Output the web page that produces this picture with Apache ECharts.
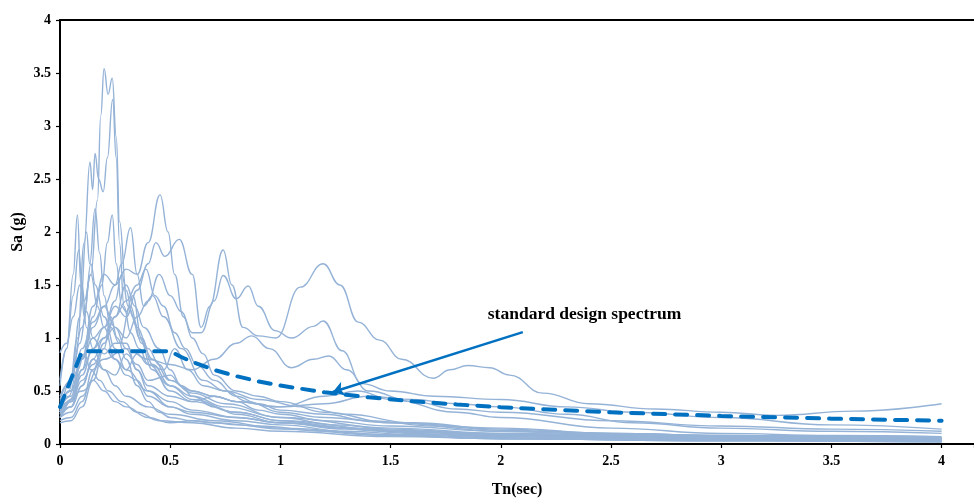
<!DOCTYPE html>
<html>
<head>
<meta charset="utf-8">
<title>Response spectra</title>
<script src="https://cdn.jsdelivr.net/npm/echarts@6/dist/echarts.min.js"></script>
<style>
    html, body { margin: 0; padding: 0; background: #fff; }
    #spectra { width: 974px; height: 498px; }
</style>
</head>
<body>
<div id="spectra"></div>
<script>
// 各记录的反应谱 [Tn, Sa]
var rec01 = [[0,0.42],[0.05,0.6],[0.1,1.1],[0.14,1.6],[0.17,2.3],[0.185,3.1],[0.2,3.54],[0.218,3.3],[0.237,3.45],[0.255,2.9],[0.27,2.1],[0.3,1.45],[0.33,1.2],[0.37,0.95],[0.42,0.8],[0.5,0.6],[0.6,0.48],[0.75,0.38],[1,0.25],[1.25,0.18],[1.5,0.14],[2,0.09],[2.5,0.07],[3,0.05],[3.5,0.045],[4,0.04]];
var rec02 = [[0,0.32],[0.04,0.5],[0.08,1.0],[0.11,1.9],[0.136,2.66],[0.148,2.4],[0.159,2.74],[0.175,2.5],[0.196,2.38],[0.215,2.7],[0.239,3.25],[0.255,2.7],[0.27,1.9],[0.29,1.3],[0.32,1.05],[0.36,0.9],[0.4,0.75],[0.5,0.55],[0.6,0.42],[0.8,0.3],[1,0.22],[1.3,0.15],[1.6,0.11],[2,0.08],[2.5,0.06],[3,0.045],[4,0.03]];
var rec03 = [[0,0.55],[0.03,0.9],[0.06,1.6],[0.079,2.16],[0.095,1.5],[0.11,1.2],[0.14,1.7],[0.16,1.5],[0.2,1.2],[0.25,0.9],[0.3,0.7],[0.4,0.5],[0.5,0.4],[0.6,0.32],[0.8,0.25],[1,0.2],[1.5,0.12],[2,0.08],[3,0.05],[4,0.03]];
var rec04 = [[0,0.3],[0.05,0.6],[0.09,1.2],[0.12,2.0],[0.135,1.7],[0.159,2.22],[0.18,1.8],[0.2,1.4],[0.23,1.1],[0.27,0.95],[0.32,1.3],[0.36,1.0],[0.42,0.7],[0.5,0.5],[0.6,0.4],[0.8,0.3],[1,0.22],[1.5,0.13],[2,0.09],[3,0.06],[4,0.05]];
var rec05 = [[0,0.25],[0.05,0.35],[0.1,0.7],[0.15,1.2],[0.19,1.5],[0.215,1.9],[0.237,2.16],[0.255,1.7],[0.28,1.3],[0.3,1.25],[0.33,1.4],[0.37,1.0],[0.42,0.75],[0.5,0.55],[0.6,0.45],[0.75,0.35],[1,0.25],[1.5,0.15],[2,0.1],[3,0.06],[4,0.045]];
var rec06 = [[0,0.28],[0.05,0.4],[0.1,0.8],[0.15,1.3],[0.2,1.6],[0.25,1.5],[0.28,1.7],[0.32,2.04],[0.35,1.6],[0.38,1.3],[0.42,1.4],[0.47,1.2],[0.55,0.9],[0.65,0.6],[0.75,0.5],[0.9,0.42],[1.1,0.35],[1.3,0.28],[1.6,0.2],[2,0.14],[2.5,0.1],[3,0.08],[4,0.06]];
var rec07 = [[0,0.35],[0.05,0.45],[0.1,0.9],[0.15,1.15],[0.2,1.3],[0.25,1.5],[0.3,1.65],[0.35,1.6],[0.4,1.9],[0.454,2.35],[0.49,2.0],[0.52,1.6],[0.56,1.2],[0.6,1.0],[0.65,0.85],[0.7,0.65],[0.8,0.5],[0.9,0.45],[1,0.4],[1.2,0.3],[1.5,0.2],[2,0.12],[2.5,0.09],[3,0.07],[4,0.05]];
var rec08 = [[0,0.4],[0.05,0.5],[0.1,0.8],[0.15,1.0],[0.2,1.1],[0.25,1.3],[0.3,1.2],[0.35,1.45],[0.4,1.7],[0.435,1.9],[0.476,1.77],[0.541,1.93],[0.6,1.6],[0.64,1.1],[0.68,1.3],[0.74,1.83],[0.78,1.5],[0.83,1.1],[0.9,1.02],[0.98,1.0],[1.09,1.48],[1.194,1.7],[1.27,1.5],[1.353,1.15],[1.45,0.98],[1.55,0.8],[1.693,0.62],[1.77,0.7],[1.85,0.74],[1.95,0.72],[2.04,0.65],[2.19,0.48],[2.4,0.38],[2.7,0.33],[3,0.3],[3.25,0.27],[3.6,0.31],[4,0.38]];
var rec09 = [[0,0.3],[0.05,0.42],[0.1,0.7],[0.15,0.9],[0.2,1.0],[0.25,1.1],[0.3,1.0],[0.35,1.2],[0.4,1.35],[0.45,1.6],[0.5,1.4],[0.55,1.25],[0.6,1.05],[0.64,1.05],[0.7,1.35],[0.74,1.59],[0.8,1.37],[0.854,1.49],[0.9,1.3],[0.975,1.07],[1.05,1.0],[1.15,1.11],[1.194,1.16],[1.28,0.88],[1.37,0.57],[1.5,0.5],[1.7,0.45],[2,0.42],[2.3,0.35],[2.6,0.3],[3,0.25],[3.5,0.18],[4,0.14]];
var rec10 = [[0,0.25],[0.1,0.5],[0.2,0.8],[0.3,0.9],[0.4,0.8],[0.5,0.75],[0.6,0.7],[0.7,0.8],[0.8,0.95],[0.87,1.02],[0.95,0.9],[1.05,0.72],[1.15,0.8],[1.22,0.83],[1.3,0.7],[1.4,0.5],[1.6,0.4],[1.8,0.33],[2,0.3],[2.5,0.22],[3,0.17],[3.5,0.14],[4,0.12]];
var rec11 = [[0,0.6],[0.03,0.9],[0.06,1.4],[0.085,1.83],[0.1,1.5],[0.12,1.1],[0.15,0.9],[0.2,0.7],[0.25,0.55],[0.3,0.45],[0.4,0.35],[0.5,0.28],[0.7,0.22],[1,0.15],[1.5,0.09],[2,0.06],[3,0.04],[4,0.03]];
var rec12 = [[0,0.86],[0.03,0.95],[0.06,1.2],[0.09,1.5],[0.11,1.35],[0.14,1.6],[0.17,1.3],[0.2,1.1],[0.25,0.8],[0.3,0.65],[0.35,0.6],[0.4,0.45],[0.5,0.35],[0.6,0.3],[0.8,0.25],[1,0.2],[1.3,0.15],[1.6,0.12],[2,0.1],[2.5,0.08],[3,0.06],[4,0.05]];
var rec13 = [[0,0.3],[0.05,0.35],[0.1,0.55],[0.15,0.8],[0.2,1.0],[0.25,1.2],[0.3,1.35],[0.35,1.5],[0.39,1.65],[0.43,1.4],[0.47,1.3],[0.52,1.05],[0.57,0.9],[0.62,0.75],[0.7,0.6],[0.8,0.45],[0.9,0.38],[1,0.32],[1.2,0.28],[1.4,0.22],[1.7,0.17],[2,0.13],[2.5,0.1],[3,0.08],[4,0.06]];
var rec14 = [[0,0.22],[0.05,0.25],[0.1,0.4],[0.15,0.7],[0.2,0.95],[0.25,1.2],[0.3,1.5],[0.34,1.3],[0.38,1.1],[0.45,0.9],[0.5,0.7],[0.55,0.55],[0.6,0.45],[0.7,0.35],[0.8,0.28],[1,0.2],[1.3,0.14],[1.6,0.1],[2,0.07],[3,0.04],[4,0.03]];
var rec15 = [[0,0.2],[0.05,0.22],[0.1,0.35],[0.15,0.6],[0.2,0.9],[0.23,1.2],[0.26,1.0],[0.3,0.8],[0.35,0.55],[0.4,0.4],[0.45,0.3],[0.5,0.25],[0.6,0.22],[0.7,0.2],[0.9,0.17],[1.2,0.12],[1.5,0.08],[2,0.05],[3,0.03],[4,0.02]];
var rec16 = [[0,0.28],[0.05,0.35],[0.1,0.55],[0.15,0.8],[0.2,0.7],[0.25,0.65],[0.3,0.85],[0.35,0.75],[0.4,0.6],[0.5,0.65],[0.55,0.55],[0.6,0.5],[0.7,0.45],[0.8,0.4],[1,0.35],[1.2,0.45],[1.35,0.5],[1.5,0.42],[1.8,0.3],[2,0.25],[2.5,0.15],[3,0.1],[3.5,0.08],[4,0.07]];
var rec17 = [[0,0.35],[0.05,0.4],[0.1,0.6],[0.15,0.75],[0.2,0.9],[0.25,0.8],[0.3,0.7],[0.35,0.85],[0.4,0.75],[0.47,0.7],[0.52,0.9],[0.58,0.7],[0.65,0.55],[0.75,0.5],[0.85,0.4],[1,0.3],[1.2,0.25],[1.5,0.2],[2,0.15],[2.5,0.1],[3,0.08],[4,0.06]];
var rec18 = [[0,0.25],[0.05,0.3],[0.1,0.45],[0.15,0.6],[0.2,0.5],[0.25,0.4],[0.3,0.35],[0.4,0.25],[0.5,0.2],[0.6,0.22],[0.7,0.2],[0.8,0.18],[1,0.14],[1.5,0.08],[2,0.05],[3,0.03],[4,0.02]];
var rec19 = [[0,0.4],[0.05,0.5],[0.1,0.8],[0.15,1.1],[0.2,1.3],[0.25,1.1],[0.3,0.9],[0.35,0.7],[0.4,0.55],[0.5,0.45],[0.6,0.4],[0.7,0.45],[0.8,0.4],[1,0.35],[1.2,0.38],[1.4,0.45],[1.6,0.42],[1.8,0.38],[2,0.35],[2.3,0.28],[2.6,0.2],[3,0.15],[3.5,0.12],[4,0.1]];
var rec20 = [[0,0.3],[0.04,0.45],[0.08,0.7],[0.11,0.85],[0.14,0.7],[0.18,0.6],[0.22,0.5],[0.28,0.4],[0.35,0.3],[0.45,0.22],[0.6,0.2],[0.8,0.15],[1,0.12],[1.5,0.07],[2,0.05],[3,0.03],[4,0.02]];
var rec21 = [[0,0.45],[0.05,0.6],[0.09,0.95],[0.12,1.25],[0.15,1.0],[0.2,0.85],[0.25,0.95],[0.3,0.95],[0.35,0.7],[0.4,0.5],[0.5,0.35],[0.6,0.28],[0.8,0.22],[1,0.18],[1.3,0.12],[1.6,0.09],[2,0.07],[3,0.04],[4,0.03]];
var rec22 = [[0,0.3],[0.05,0.4],[0.1,0.65],[0.15,0.9],[0.2,1.1],[0.25,1.35],[0.28,1.6],[0.31,1.3],[0.35,1.1],[0.4,0.9],[0.45,0.75],[0.5,0.6],[0.6,0.5],[0.7,0.45],[0.8,0.4],[0.9,0.32],[1,0.28],[1.2,0.22],[1.5,0.17],[2,0.12],[2.5,0.09],[3,0.07],[4,0.05]];

var records = [rec01, rec02, rec03, rec04, rec05, rec06, rec07, rec08, rec09, rec10, rec11,
               rec12, rec13, rec14, rec15, rec16, rec17, rec18, rec19, rec20, rec21, rec22];

// 标准设计谱
var designT  = [0, 0.1, 0.5, 0.55, 0.6, 0.7, 0.8, 0.9, 1.0, 1.2, 1.4, 1.6, 1.8, 2.0, 2.5, 3.0, 3.5, 4.0];
var designSa = [0.35, 0.875, 0.875, 0.821, 0.775, 0.699, 0.64, 0.591, 0.551, 0.488, 0.44, 0.403, 0.373, 0.347, 0.299, 0.265, 0.239, 0.219];

// 箭头和文字标注 (数据坐标)
var arrowFrom = [2.1, 1.055];
var arrowTo = [1.238, 0.49];
var noteAt = [2.38, 1.22];
var noteText = 'standard design spectrum';

var xTicks = [0, 0.5, 1, 1.5, 2, 2.5, 3, 3.5, 4];

var chart = echarts.init(document.getElementById('spectra'));
var font = 'Liberation Serif';

var series = [];
for (var i = 0; i < records.length; i++) {
    series.push({
        type: 'line',
        data: records[i],
        showSymbol: false,
        smooth: 0.45,
        smoothMonotone: 'x',
        silent: true,
        lineStyle: { color: '#95B3D7', width: 1.4 },
        z: 2
    });
}

var designData = [];
for (var i = 0; i < designT.length; i++) {
    designData.push([designT[i], designSa[i]]);
}
series.push({
    type: 'line',
    data: designData,
    showSymbol: false,
    silent: true,
    lineStyle: { color: '#0070C0', width: 4, type: [12, 10], cap: 'round' },
    z: 5,
    markLine: {
        silent: true,
        symbol: ['none', 'arrow'],
        symbolSize: 11,
        label: { show: false },
        lineStyle: { color: '#0070C0', width: 2.5, type: 'solid' },
        data: [[{ coord: arrowFrom }, { coord: arrowTo }]]
    },
    markPoint: {
        silent: true,
        symbol: 'circle',
        symbolSize: 0,
        data: [{
            coord: noteAt,
            label: {
                show: true,
                position: 'inside',
                formatter: noteText,
                color: '#000',
                fontFamily: font,
                fontWeight: 'bold',
                fontSize: 17.5
            }
        }]
    }
});

var option = {
    animation: false,
    backgroundColor: '#fff',
    grid: { left: 60, right: 0, top: 20, bottom: 54, outerBoundsMode: 'none', containLabel: false },
    xAxis: [{
        type: 'value',
        min: 0,
        max: 4.147,
        interval: 0.5,
        name: 'Tn(sec)',
        nameLocation: 'middle',
        nameGap: 38,
        nameTextStyle: { color: '#000', fontFamily: font, fontWeight: 'bold', fontSize: 16 },
        axisLine: { lineStyle: { color: '#000', width: 2 } },
        axisTick: { length: 4, lineStyle: { color: '#000', width: 1.2 } },
        axisLabel: {
            color: '#000', fontFamily: font, fontWeight: 'bold', fontSize: 14, margin: 10,
            formatter: function (v) {
                return xTicks.indexOf(v) >= 0 ? String(v) : '';
            }
        },
        splitLine: { show: false }
    }, {
        type: 'value',
        position: 'top',
        min: 0,
        max: 4.147,
        axisLine: { show: true, lineStyle: { color: '#000', width: 2 } },
        axisTick: { show: false },
        axisLabel: { show: false },
        splitLine: { show: false }
    }],
    yAxis: {
        type: 'value',
        min: 0,
        max: 4,
        interval: 0.5,
        name: 'Sa (g)',
        nameLocation: 'middle',
        nameGap: 34,
        nameMoveOverlap: false,
        nameTextStyle: { color: '#000', fontFamily: font, fontWeight: 'bold', fontSize: 16 },
        axisLine: { show: true, lineStyle: { color: '#000', width: 2 } },
        axisTick: { show: true, length: 4, lineStyle: { color: '#000', width: 1.2 } },
        axisLabel: { color: '#000', fontFamily: font, fontWeight: 'bold', fontSize: 14, margin: 9 },
        splitLine: { show: false }
    },
    series: series
};

chart.setOption(option);
</script>
</body>
</html>
